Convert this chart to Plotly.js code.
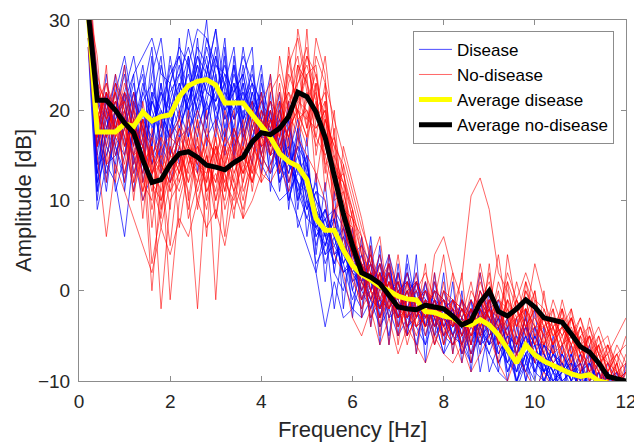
<!DOCTYPE html>
<html><head><meta charset="utf-8">
<script src="https://cdn.plot.ly/plotly-3.0.1.min.js"></script>
<style>html,body{margin:0;padding:0;background:#fff}#chart{width:634px;height:443px}</style>
</head><body><div id="chart"></div>
<script>
const freq = [0.2,0.4,0.6,0.8,1.0,1.2,1.4,1.6,1.8,2.0,
  2.2,2.4,2.6,2.8,3.0,3.2,3.4,3.6,3.8,4.0,
  4.2,4.4,4.6,4.8,5.0,5.2,5.4,5.6,5.8,6.0,
  6.2,6.4,6.6,6.8,7.0,7.2,7.4,7.6,7.8,8.0,
  8.2,8.4,8.6,8.8,9.0,9.2,9.4,9.6,9.8,10.0,
  10.2,10.4,10.6,10.8,11.0,11.2,11.4,11.6,11.8,12.0];

const disease01 = [34,14,19,22,16,20,25,18,21,24, 26,22,27,25,21,24,19,22,17,20, 15,18,12,16,10,7,9,4,6,1, 3,-1,2,-2,1,-3,0,-4,-1,-5, -2,-6,-3,-1,-5,-4,-8,-6,-9,-5, -7,-10,-8,-11,-9,-7,-12,-9,-11,-10];
const disease02 = [30,12,15,19,21,14,17,22,16,23, 19,25,21,28,24,18,23,17,21,15, 19,13,17,11,14,9,5,8,3,5, 0,3,-2,1,-1,2,-3,-1,-4,0, -4,-1,-6,-3,-2,-7,-5,-9,-4,-8, -6,-9,-7,-10,-8,-11,-9,-12,-10,-11];
const disease03 = [36,20,16,14,22,19,15,24,28,20, 23,20,26,22,27,19,24,21,23,18, 21,16,13,18,12,10,6,9,4,2, 4,0,3,-1,2,-2,1,-3,-2,-1, -5,-2,-4,-6,-1,-6,-4,-7,-5,-9, -10,-7,-9,-8,-12,-10,-8,-11,-13,-10];
const disease04 = [28,10,18,21,17,11,20,16,23,18, 22,26,19,24,29,22,18,25,20,22, 14,17,11,13,15,6,8,5,7,3, -1,2,0,3,-2,0,-3,1,-4,-2, -1,-4,-7,-2,-5,-3,-6,-10,-7,-6, -9,-6,-10,-9,-7,-11,-10,-9,-12,-11];
const disease05 = [33,16,21,15,19,23,17,21,19,15, 18,21,24,20,22,25,21,18,22,17, 18,12,16,10,13,8,4,7,5,1, 2,-2,1,-3,0,1,-2,-5,-1,-3, -6,-3,-1,-5,-7,-4,-9,-6,-3,-8, -8,-11,-9,-7,-10,-12,-9,-11,-10,-12];
const disease06 = [31,13,17,20,24,16,22,19,14,21, 25,19,22,26,20,17,22,24,19,21, 16,20,14,12,9,11,7,3,6,4, 1,4,-1,2,-2,-1,2,-3,0,-4, -3,-5,-2,-4,-6,-2,-5,-8,-6,-4, -7,-9,-11,-8,-10,-9,-11,-10,-9,-12];
const disease07 = [35,18,13,17,15,21,18,14,20,17, 20,23,18,21,25,23,17,20,16,19, 13,15,10,14,11,5,9,6,2,3, 3,1,-2,0,1,-4,-1,-2,-5,-3, -2,-7,-4,-1,-3,-6,-8,-5,-7,-9, -6,-8,-10,-12,-9,-8,-11,-13,-10,-9];
const disease08 = [29,21,19,16,13,18,23,20,17,22, 24,27,23,19,23,21,25,19,23,18, 20,14,18,15,12,9,7,8,3,-1, 2,0,4,-1,-3,1,0,-2,-3,-5, -4,-2,-5,-3,-6,-5,-3,-7,-9,-6, -9,-7,-8,-10,-11,-9,-10,-12,-11,-10];
const disease09 = [37,15,22,18,20,15,19,17,22,19, 17,22,26,24,19,22,20,23,18,16, 17,13,15,11,8,7,5,9,5,2, 0,2,-1,-2,0,-2,1,-4,-2,-1, -3,-4,-2,-5,-4,-8,-6,-9,-5,-7, -10,-8,-7,-9,-11,-10,-12,-9,-11,-13];
const disease10 = [32,11,16,20,18,22,14,21,18,25, 21,24,20,23,26,20,23,19,21,19, 15,16,13,17,14,8,3,6,4,2, 1,-1,1,2,-1,-3,-2,-3,-1,-2, -5,-3,-6,-2,-3,-5,-7,-10,-8,-5, -8,-10,-9,-7,-12,-8,-10,-11,-12,-10];
const disease11 = [30,19,20,23,21,24,26,28,24,23, 27,25,29,28,25,24,22,26,23,21, 19,18,15,19,13,10,8,9,7,4, 5,3,1,4,0,1,-1,0,-3,-2, -1,-3,-4,0,-2,-3,-5,-6,-4,-6, -6,-7,-9,-8,-9,-10,-9,-11,-10,-9];
const disease12 = [27,9,14,12,6,15,10,13,16,14, 17,18,20,17,19,16,18,15,17,14, 12,10,11,8,5,2,-4,1,-3,-2, -3,-1,-4,-2,-5,-3,-4,-6,-3,-7, -5,-6,-8,-4,-7,-9,-10,-11,-8,-10, -11,-9,-12,-13,-10,-11,-13,-12,-11,-14];
const disease13 = [34,17,18,21,19,17,21,23,19,17, 23,20,22,27,23,19,21,22,20,17, 17,19,14,12,11,6,8,4,5,3, 2,-1,2,0,-2,0,1,-1,-2,-4, -2,-5,-3,-4,-1,-5,-7,-8,-6,-8, -9,-8,-10,-9,-8,-12,-10,-9,-11,-12];
const disease14 = [31,14,15,18,22,13,16,19,22,20, 24,21,25,22,21,23,19,21,24,20, 18,14,12,15,10,9,6,7,2,4, 1,2,-3,1,0,-1,-2,-3,-1,-3, -4,-2,-3,-6,-5,-3,-6,-7,-5,-7, -7,-9,-8,-10,-9,-8,-11,-10,-12,-11];
const disease15 = [33,24,12,20,25,17,13,21,26,15, 28,17,23,30,18,26,15,24,27,13, 22,11,19,9,17,4,12,2,9,-3, 6,-4,5,-6,3,-5,4,-8,2,-6, 1,-8,-2,-7,0,-9,-3,-11,-2,-10, -4,-12,-6,-10,-13,-7,-12,-9,-14,-8];
const disease16 = [29,11,22,13,19,24,12,17,23,12, 16,26,13,21,17,27,14,23,16,24, 11,21,9,18,6,13,1,11,-2,7, -3,5,-6,4,-4,3,-7,1,-5,2, -7,0,-9,-1,-6,-3,-10,-4,-8,-2, -11,-5,-9,-6,-12,-8,-10,-13,-9,-11];
const disease17 = [36,21,17,24,11,19,16,26,13,20, 14,19,28,16,24,15,26,18,14,23, 19,14,21,10,15,2,7,-2,5,0, -2,6,-3,2,-5,4,-2,-6,1,-4, -2,-6,-1,-9,-4,-1,-7,-3,-10,-4, -9,-6,-11,-7,-10,-6,-12,-8,-10,-13];
const disease18 = [31,13,20,11,15,21,24,15,18,26, 20,17,21,24,29,17,25,16,22,19, 24,15,16,12,8,11,10,2,0,5, 3,-3,-1,-5,2,-2,-6,-1,-3,-7, -1,-5,-8,-2,-9,-6,-4,-10,-7,-12, -8,-11,-7,-9,-8,-11,-9,-14,-12,-10];
const disease19 = [30,18,11,19,22,26,20,14,17,23, 26,20,17,22,21,28,16,19,25,15, 13,19,17,7,10,3,5,8,1,-2, 1,3,-4,-1,-3,2,-1,-4,0,-1, -5,-1,-3,2,-4,-7,-5,-6,-3,-9, -6,-8,-12,-10,-7,-9,-11,-10,-13,-12];
const disease20 = [34,16,24,16,12,18,22,27,15,18, 22,29,24,18,26,21,19,27,21,17, 20,12,14,16,14,9,4,5,3,6, -1,0,3,-3,-2,-5,1,-2,-6,-2, -3,-7,-5,-4,-6,-2,-9,-7,-4,-6, -10,-7,-8,-12,-11,-10,-8,-11,-12,-13];
const disease21 = [32,12,18,22,26,20,14,22,20,17, 19,23,20,25,20,23,27,17,20,25, 16,22,10,14,9,12,6,3,7,0, 4,1,-2,3,-3,0,-4,-3,-2,-5, -6,-4,-2,-6,-3,-8,-6,-5,-10,-7, -9,-10,-9,-8,-12,-11,-13,-10,-9,-12];
const disease22 = [35,19,14,15,18,22,18,16,25,21, 18,21,25,19,23,20,22,24,18,22, 17,16,19,13,12,7,9,6,2,3, 0,-2,1,-1,1,-4,-3,0,-4,-3, -4,-3,-7,-5,-2,-4,-8,-9,-7,-5, -7,-9,-10,-11,-9,-12,-10,-12,-10,-11];

const noDisease01 = [33,18,22,16,20,13,17,9,14,11, 16,12,18,15,10,14,17,12,19,15, 20,17,23,26,19,22,14,15,7,4, 3,-1,2,-3,0,-4,-1,-3,1,-2, -4,-1,-6,0,-3,-5,-1,-4,-2,-6, -2,-5,-3,-7,-4,-8,-6,-9,-7,-11];
const noDisease02 = [30,23,19,21,15,19,10,14,-2,10, 12,17,13,9,15,11,16,18,14,20, 16,21,18,24,27,18,20,10,11,6, 0,3,-2,1,-3,0,-4,-2,-5,0, -2,-5,-1,-3,2,-4,-2,-5,0,-3, -5,-1,-4,-6,-8,-5,-9,-10,-8,-12];
const noDisease03 = [35,20,16,23,19,14,18,13,15,-1, 10,14,16,12,17,9,13,16,12,18, 19,15,21,20,24,25,16,13,9,8, 4,0,-1,2,-2,1,-3,0,-1,-4, -1,-3,-5,-2,-4,0,-6,-3,1,-2, -4,-2,-6,-3,-7,-5,-8,-7,-10,-9];
const noDisease04 = [29,16,21,18,14,20,12,16,10,14, 17,8,12,16,-1,15,11,14,17,13, 18,22,16,29,23,20,22,14,12,3, 1,-2,3,-1,-4,-1,0,-3,-2,-6, -3,-6,-2,-4,-1,-3,-4,1,-3,0, -6,-3,-5,-8,-4,-7,-9,-8,-11,-10];
const noDisease05 = [32,22,18,20,17,11,15,0,12,16, 13,16,10,14,12,17,15,10,16,19, 15,18,24,21,20,17,23,11,8,7, 2,4,-1,0,-2,-3,1,-2,0,-3, -5,-2,-4,3,-2,-1,-3,-6,-2,-4, -3,-6,-4,-2,-6,-9,-7,-10,-9,-8];
const noDisease06 = [34,19,23,17,21,16,13,17,14,12, 18,14,17,11,13,10,16,13,15,17, 21,19,17,23,25,21,15,17,10,5, -1,2,0,-2,1,-4,-2,1,-3,-1, -2,1.5,10.5,12.5,9,2,0,-4,-1,-5, -3,-4,-7,-5,-8,-6,-10,-8,-9,-12];
const noDisease07 = [31,17,20,22,18,15,19,14,11,15, 14,11,-2,13,16,12,10,15,13,16, 17,20,22,18,21,24,18,12,13,9, 5,1,3,0,-1,2,-2,-4,4,6, 2,-1,-3,1,-2,4,-3,-1,2,-1, -2,-5,-4,-6,-3,-7,-5,-9,-6,-8];
const noDisease08 = [28,21,17,19,13,18,16,11,15,13, 11,15,13,17,10,16,12,9,14,12, 14,16,20,22,18,23,19,16,14,10, 6,2,-2,1,-3,-1,1,-2,-4,-1, -3,-5,0,-2,-4,-3,1,-2,-4,-3, -5,-8,-6,-4,-7,-9,-8,-11,-10,-9];
const noDisease09 = [36,24,20,18,22,17,14,16,9,13, 15,13,19,14,18,15,17,13,18,21, 23,17,25,28,22,19,21,13,6,2, -2,0,-3,-1,-2,-5,-3,-1,-2,-4, -6,-3,-7,-4,-2,-5,-3,-6,-4,-2, -5,-7,-6,-9,-8,-10,-9,-11,-12,-10];
const noDisease10 = [30,18,22,20,16,19,11,15,13,17, 16,12,15,11,14,13,9,12,16,14, 19,16,18,20,17,26,23,19,15,11, 7,4,1,3,0,-2,0,2,-1,-3, -1,-2,-4,-1,1,-3,-5,-1,-3,3, -1,-4,-2,-5,-3,-6,-4,-7,-5,-3];
const noDisease11 = [27,15,6,14,11,8,5,2,7,4, 8,6,10,7,9,5,11,8,10,13, 12,14,11,17,15,13,10,4,2,-3, -5,-2,-6,-3,-7,-4,-6,-8,-5,-7, -8,-6,-9,-7,-5,-8,-10,-7,-9,-11, -9,-11,-10,-12,-9,-13,-11,-12,-14,-12];
const noDisease12 = [33,22,19,24,20,16,19,13,17,15, 18,16,20,17,15,18,14,17,20,16, 22,24,20,25,23,17,15,11,9,6, 3,0,2,-1,1,-2,-1,0,-3,-2, -2,-4,-1,-3,-2,-6,-4,-2,-5,-4, -6,-4,-8,-6,-9,-7,-10,-9,-11,-8];
const noDisease13 = [31,20,14,17,19,12,15,12,8,16, 13,17,11,15,12,17,13,16,12,17, 15,19,26,19,20,16,19,13,12,8, 2,3,1,-2,0,-3,-1,-2,0,-1, -4,-2,-5,-1,-3,-1,-2,-4,0,-2, -3,-6,-2,-7,-5,-4,-7,-6,-8,-5];
const noDisease14 = [34,21,23,20,21,18,16,13,14,12, 14,19,14,13,16,14,18,15,19,18, 16,18,21,23,26,24,17,14,11,7, 1,-1,-2,0,-3,-2,-4,-1,-3,-5, -3,-6,-4,-5,-2,-4,-1,-3,-2,-4, -4,-3,-6,-5,-7,-8,-6,-9,-7,-9];
const noDisease15 = [32,26,14,23,20,10,19,7,16,9, 20,10,17,6,19,13,8,18,21,12, 24,13,27,19,16,23,11,18,4,9, -3,5,-5,3,-6,1,-7,-1,-4,1, -7,-1,-6,2,-4,-8,1,-6,-3,-8, 0,-7,-2,-9,-5,-10,-6,-12,-8,-13];
const noDisease16 = [30,17,25,12,22,19,8,18,13,5, 14,20,9,15,11,17,20,11,14,22, 15,26,20,17,29,15,21,8,14,3, 5,-4,2,-6,2,-5,-3,3,-6,-3, 2,-7,-2,-5,3,-6,-1,-8,1,-4, -6,-2,-9,-3,-7,-5,-11,-6,-10,-7];
const noDisease17 = [34,19,12,20,16,22,17,3,9,18, 7,14,19,10,16,6,15,19,11,18, 21,16,14,25,18,28,24,6,16,12, 8,3,6,-2,4,-3,2,-5,-1,4, -4,2,-8,-3,-1,-6,4,-2,-5,0, -8,-4,-7,-2,-9,-4,-8,-7,-12,-9];
const noDisease18 = [29,22,20,15,18,12,21,15,17,11, 13,18,15,20,8,14,11,16,20,15, 13,20,17,21,24,12,19,16,9,1, -1,2,-4,4,-1,-6,-2,-4,2,-5, -1,-4,-2,-6,-1,-2,-5,-3,-6,-1, -4,-6,-1,-5,-8,-3,-7,-10,-8,-11];
const noDisease19 = [33,20,17,22,12,21,12,10,19,13, 17,15,12,18,14,20,16,8,15,19, 17,23,15,20,26,22,13,20,7,4, 2,-3,0,2,-4,-2,-5,-2,-6,-3, -5,-8,-3,-1,-4,1,-2,-7,-3,-6, -3,-6,-4,-8,-5,-7,-9,-6,-9,-11];
const noDisease20 = [35,23,21,17,25,15,16,12,10,15, 12,16,14,12,17,11,18,14,12,15, 20,15,18,20,17,21,14,9,10,6, 3,1,4,-1,-2,0,-4,-3,-1,-6, -2,-3,1,-4,-2,-3,2,-1,-4,-2, -7,-3,-5,-3,-6,-9,-5,-8,-11,-9];
const noDisease21 = [31,16,19,21,17,15,11,16,7,12, 15,9,16,14,8,16,12,17,13,20, 18,21,12,16,22,20,26,17,13,8, 6,0,-3,1,-5,-1,-3,0,-2,-4, -6,-5,-3,-2,-5,-4,-6,-1,-4,-7, -5,-4,-3,-6,-4,-7,-6,-5,-9,-10];
const noDisease22 = [28,19,22,18,23,20,18,14,16,17, 19,16,14,17,15,12,15,13,18,16, 19,17,22,20,19,18,20,15,12,9, 4,2,-1,-2,0,1,-2,-4,-3,0, -1,-2,-4,0,-3,-2,-4,-3,-2,-5, -4,-7,-5,-3,-6,-5,-7,-8,-7,-6];

const avgDisease = [31,17.6,17.6,17.6,18.5,18.2,19.8,18.8,19.3,19.5, 21.5,22.7,23.2,23.4,22.8,20.8,20.8,20.8,19.5,18.3, 17,15.2,14.3,13.8,12.3,8,6.7,6.7,4.5,2.8, 1.8,1.2,0.5,0,-0.6,-0.9,-1,-2.3,-2.4,-2.8, -3,-3.7,-3.8,-3.2,-3.8,-4.9,-6.5,-8,-6,-7.1, -7.8,-8.3,-8.7,-9.2,-9.5,-9.3,-10,-10.2,-10.6,-11];
const avgNoDisease = [31,21.1,21.1,20,18.6,17.5,14.5,12,12.3,14, 15.2,15.4,14.8,13.9,13.7,13.4,14.2,14.8,16.5,17.5, 17.3,18,19.3,22,21.5,19.8,17,12.5,8.5,5, 2,1.5,0.8,-0.5,-1.8,-2,-2.1,-1.6,-1.8,-2, -2.8,-3.8,-3.3,-1.3,0,-2.3,-2.8,-2,-1,-1.8, -3,-3.3,-3.5,-4.8,-6.2,-6.8,-8,-9.5,-9.8,-10];

const diseaseSeries = [disease01,disease02,disease03,disease04,disease05,disease06,disease07,disease08,disease09,disease10,disease11,
  disease12,disease13,disease14,disease15,disease16,disease17,disease18,disease19,disease20,disease21,disease22];
const noDiseaseSeries = [noDisease01,noDisease02,noDisease03,noDisease04,noDisease05,noDisease06,noDisease07,noDisease08,noDisease09,noDisease10,noDisease11,
  noDisease12,noDisease13,noDisease14,noDisease15,noDisease16,noDisease17,noDisease18,noDisease19,noDisease20,noDisease21,noDisease22];

const traces = [];
diseaseSeries.forEach((y, i) => traces.push({
  x: freq, y: y, type: 'scatter', mode: 'lines', name: 'Disease',
  legendgroup: 'd', showlegend: i === 0,
  line: {color: 'rgba(0,0,255,0.7)', width: 1}
}));
noDiseaseSeries.forEach((y, i) => traces.push({
  x: freq, y: y, type: 'scatter', mode: 'lines', name: 'No-disease',
  legendgroup: 'n', showlegend: i === 0,
  line: {color: 'rgba(255,0,0,0.6)', width: 1}
}));
traces.push({x: freq, y: avgDisease, type: 'scatter', mode: 'lines', name: 'Average disease',
  line: {color: '#ffff00', width: 5}});
traces.push({x: freq, y: avgNoDisease, type: 'scatter', mode: 'lines', name: 'Average no-disease',
  line: {color: '#000000', width: 5}});

const FONT = 'Liberation Sans, Arial, Helvetica, sans-serif';
const axisCommon = {
  showline: true, mirror: 'ticks', linecolor: '#8c8c8c', linewidth: 1,
  ticks: 'inside', ticklen: 5, tickcolor: '#8c8c8c', showgrid: false, zeroline: false,
  ticklabeloverflow: 'allow',
  tickfont: {family: FONT, size: 19, color: '#262626'}
};

const layout = {
  width: 634, height: 443,
  margin: {l: 79, r: 8, t: 20, b: 62},
  paper_bgcolor: '#fff', plot_bgcolor: '#fff',
  showlegend: true,
  xaxis: Object.assign({}, axisCommon, {
    range: [0, 12], tickvals: [0,2,4,6,8,10,12], ticklabelstandoff: 3,
    title: {text: 'Frequency [Hz]', standoff: 10, font: {family: FONT, size: 22, color: '#262626'}}
  }),
  yaxis: Object.assign({}, axisCommon, {
    range: [-10, 30], tickvals: [-10,0,10,20,30], ticklabelstandoff: 4,
    title: {text: 'Amplitude [dB]', standoff: 0, font: {family: FONT, size: 22, color: '#262626'}}
  }),
  legend: {
    x: 0.978, y: 0.97, xanchor: 'right', yanchor: 'top',
    bgcolor: '#fff', bordercolor: '#8c8c8c', borderwidth: 1,
    font: {family: FONT, size: 17, color: '#000'},
    tracegroupgap: 0, itemwidth: 33
  }
};

Plotly.newPlot('chart', traces, layout, {displayModeBar: false, staticPlot: true});
</script>
</body></html>
